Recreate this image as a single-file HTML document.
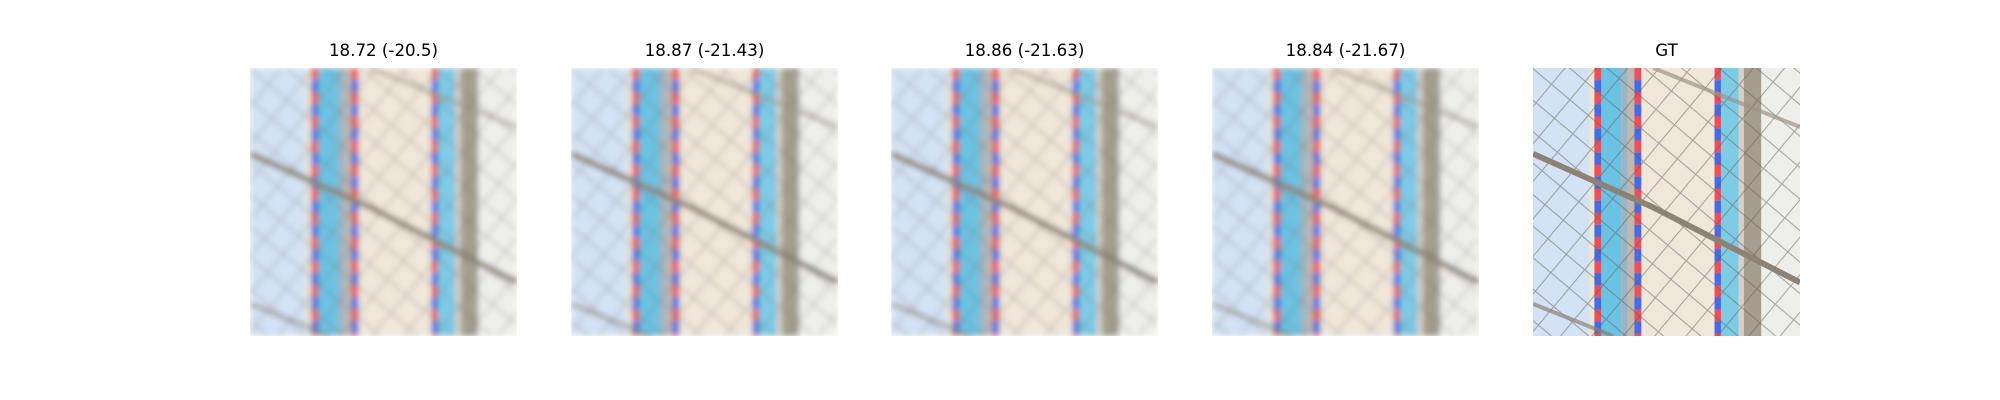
<!DOCTYPE html>
<html><head><meta charset="utf-8">
<style>
html,body{margin:0;padding:0;background:#fff;}
#fig{position:relative;width:2000px;height:400px;overflow:hidden;}
.title{position:absolute;top:41px;width:267px;text-align:center;font-family:"DejaVu Sans","Liberation Sans",sans-serif;font-size:16.67px;color:#000;line-height:20px;white-space:nowrap;}
svg.panel{position:absolute;top:68px;width:267px;height:268px;}
</style></head>
<body>
<div id="fig">
<svg width="0" height="0" style="position:absolute">
<defs>
<pattern id="rb" width="3" height="9" patternUnits="userSpaceOnUse">
<rect width="3" height="4.5" fill="#e8505a"/><rect y="4.5" width="3" height="4.5" fill="#4a6ae0"/>
</pattern>
<pattern id="grid" width="9" height="9" patternUnits="userSpaceOnUse" patternTransform="rotate(40)">
<path d="M0 0H9M0 0V9" stroke="#5d5d5d" stroke-width="0.8" fill="none"/>
</pattern>
<filter id="blur" x="0" y="0" width="100" height="100" filterUnits="userSpaceOnUse"><feGaussianBlur stdDeviation="1.1" edgeMode="duplicate"/></filter>
<g id="scene">
<rect x="0" y="0" width="100" height="100" fill="#d3e2f4"/>
<rect x="21" y="0" width="2" height="100" fill="#e8e6d6"/>
<rect x="23" y="0" width="2.6" height="100" fill="url(#rb)"/>
<rect x="25.6" y="0" width="7.4" height="100" fill="#6cc2e2"/>
<rect x="33" y="0" width="2.5" height="100" fill="#9ab6c4"/>
<rect x="35.5" y="0" width="2.5" height="100" fill="#c0b8b0"/>
<rect x="38" y="0" width="2.6" height="100" fill="url(#rb)"/>
<rect x="40.6" y="0" width="27.4" height="100" fill="#f0e6da"/>
<rect x="68" y="0" width="2.4" height="100" fill="url(#rb)"/>
<rect x="70.4" y="0" width="6.6" height="100" fill="#7ecbe6"/>
<rect x="77" y="0" width="2" height="100" fill="#d6d0c6"/>
<rect x="79" y="0" width="6.5" height="100" fill="#a59e90"/>
<rect x="85.5" y="0" width="14.5" height="100" fill="#eeeeea"/>
<rect x="0" y="0" width="100" height="100" fill="url(#grid)" opacity="0.5"/>
<path d="M0 32 L45 52 L100 80" stroke="#8c8276" stroke-width="2.2" fill="none"/>
<path d="M45 0 L100 22" stroke="#9c9486" stroke-width="1.5" fill="none" opacity="0.7"/>
<path d="M0 88 L30 100" stroke="#8c8276" stroke-width="1.5" fill="none" opacity="0.7"/>
</g>
</defs>
</svg>

<div class="title" style="left:250px">18.72 (-20.5)</div>
<svg class="panel" style="left:250px" viewBox="0 0 100 100" preserveAspectRatio="none"><use href="#scene" filter="url(#blur)"/></svg>

<div class="title" style="left:571px">18.87 (-21.43)</div>
<svg class="panel" style="left:571px" viewBox="0 0 100 100" preserveAspectRatio="none"><use href="#scene" filter="url(#blur)"/></svg>

<div class="title" style="left:891px">18.86 (-21.63)</div>
<svg class="panel" style="left:891px" viewBox="0 0 100 100" preserveAspectRatio="none"><use href="#scene" filter="url(#blur)"/></svg>

<div class="title" style="left:1212px">18.84 (-21.67)</div>
<svg class="panel" style="left:1212px" viewBox="0 0 100 100" preserveAspectRatio="none"><use href="#scene" filter="url(#blur)"/></svg>

<div class="title" style="left:1533px">GT</div>
<svg class="panel" style="left:1533px" viewBox="0 0 100 100" preserveAspectRatio="none"><use href="#scene"/></svg>
</div>
</body></html>
